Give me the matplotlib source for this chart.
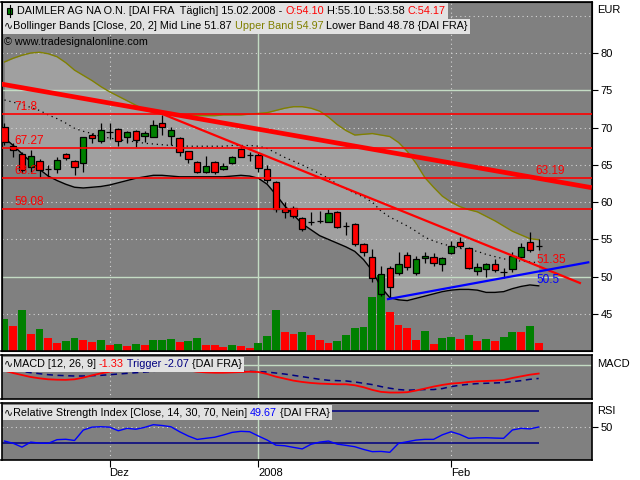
import numpy as np
import matplotlib.pyplot as plt
from matplotlib.patches import Rectangle

FONT = ['Liberation Sans', 'DejaVu Sans']
plt.rcParams['font.family'] = FONT

# daily candles DAI FRA, 15.11.2007 - 15.02.2008
opens = [70.08, 67.5, 66.46, 64.7, 65.5, 64.45, 64.44, 66.46, 65.5, 65.25,
         69.0, 68.2, 69.4, 69.8, 68.74, 69.54, 68.87, 68.74, 70.6, 68.87,
         68.6, 66.86, 65.38, 64.04, 65.38, 64.44, 65.25, 67.13, 66.3, 66.32,
         64.44, 62.7, 59.08, 59.21, 57.87, 57.34, 57.47, 57.34, 58.68, 56.8,
         57.07, 54.39, 52.64, 47.68, 51.17, 50.5, 52.91, 50.5, 52.51, 52.64,
         51.7, 53.18, 54.65, 53.85, 50.77, 51.03, 51.7, 50.63, 51.03, 52.64,
         54.65, 54.10]
highs = [70.6, 67.9, 66.7, 67.0, 65.8, 65.0, 66.05, 66.6, 65.65, 68.8,
         69.27, 70.6, 70.6, 69.9, 69.5, 69.67, 69.5, 71.0, 71.7, 70.1,
         68.74, 66.9, 65.5, 66.2, 65.5, 65.25, 66.2, 67.66, 66.7, 66.6,
         64.98, 62.8, 60.0, 59.5, 58.0, 58.7, 58.8, 59.08, 58.8, 57.34,
         57.2, 54.5, 53.72, 51.5, 51.4, 53.3, 53.3, 52.78, 53.3, 53.18,
         52.64, 54.8, 55.3, 53.98, 51.84, 51.84, 52.38, 51.17, 53.3, 54.5,
         56.0, 55.10]
lows = [67.6, 66.05, 63.9, 64.0, 63.4, 63.4, 63.9, 65.65, 63.6, 64.0,
        67.9, 67.9, 68.5, 67.5, 67.9, 67.4, 68.1, 68.74, 69.0, 67.66,
        66.2, 65.25, 63.9, 63.9, 63.8, 64.3, 65.1, 66.0, 65.5, 64.0,
        62.57, 58.7, 57.87, 57.9, 56.13, 56.9, 57.2, 57.3, 56.53, 55.6,
        54.12, 52.78, 49.29, 47.4, 47.2, 50.2, 50.9, 50.2, 51.84, 51.44,
        50.77, 53.05, 53.85, 51.03, 50.23, 49.96, 50.63, 49.83, 50.63, 52.5,
        53.3, 53.58]
closes = [68.06, 67.0, 64.3, 66.2, 64.3, 64.45, 65.65, 65.92, 64.7, 68.74,
          68.6, 69.67, 69.4, 68.2, 69.4, 68.33, 69.27, 70.34, 70.08, 69.67,
          66.7, 65.8, 64.04, 64.85, 64.04, 64.85, 66.05, 66.05, 66.3, 64.58,
          62.97, 59.08, 58.68, 58.14, 56.40, 57.34, 57.47, 58.54, 56.67, 56.8,
          54.39, 53.31, 49.83, 50.36, 48.62, 51.7, 51.3, 52.38, 52.78, 51.84,
          52.51, 54.12, 54.12, 51.17, 51.3, 51.7, 50.9, 50.63, 52.78, 53.98,
          53.58, 54.17]
volume = [320, 250, 410, 170, 220, 130, 80, 100, 130, 110, 90, 110, 60, 70,
          50, 70, 60, 110, 110, 120, 90, 100, 130, 60, 60, 40, 60, 50, 30, 80,
          150, 410, 190, 170, 190, 160, 110, 80, 100, 160, 230, 240, 540, 760,
          390, 260, 230, 110, 200, 70, 130, 140, 120, 160, 100, 120, 100, 140,
          190, 190, 250, 80]
volume_up = [1, 0, 1, 0, 1, 0, 0, 1, 1, 0, 0, 1, 0, 1, 0, 1, 0, 1, 1, 1, 0,
             1, 1, 0, 0, 0, 1, 0, 0, 1, 1, 1, 0, 0, 1, 0, 0, 0, 1, 1, 1, 1,
             1, 1, 0, 0, 0, 0, 1, 0, 1, 1, 0, 1, 0, 1, 0, 1, 1, 0, 1, 0]

# Bollinger Bands [Close, 20, 2]
bb_upper = [78.8, 79.3, 79.7, 80.0, 80.1, 79.9, 79.5, 78.7, 77.7, 77.0,
            76.3, 75.5, 74.8, 74.2, 73.6, 73.0, 72.4, 72.0, 71.8, 71.7,
            71.7, 71.7, 71.6, 71.6, 71.6, 71.7, 71.7, 71.7, 71.8, 71.9,
            72.0, 72.3, 72.6, 72.8, 72.8, 72.6, 72.2, 71.4, 70.4, 69.6,
            69.0, 69.1, 69.2, 69.0, 68.8, 68.0, 66.8, 65.2, 63.3, 62.0,
            60.8, 60.0, 59.4, 59.0, 58.7, 58.1, 57.5, 56.8, 56.1, 55.6,
            55.1, 54.97]
bb_lower = [68.6, 67.6, 66.5, 65.4, 64.4, 63.5, 62.9, 62.4, 62.0, 61.9,
            62.0, 62.1, 62.3, 62.6, 62.9, 63.2, 63.4, 63.6, 63.6, 63.5,
            63.4, 63.4, 63.4, 63.4, 63.4, 63.4, 63.5, 63.6, 63.5, 63.2,
            62.4, 61.0, 59.5, 58.3, 57.1, 56.3, 55.5, 55.0, 54.5, 54.0,
            53.4, 52.3, 50.8, 48.6, 47.2, 46.9, 46.8, 47.1, 47.4, 47.7,
            48.0, 48.2, 48.3, 48.3, 48.2, 47.9, 47.9, 48.0, 48.4, 48.7,
            48.9, 48.78]
bb_mid = [73.7, 73.4, 73.1, 72.7, 72.3, 71.7, 71.2, 70.6, 69.9, 69.5,
          69.2, 68.8, 68.6, 68.4, 68.2, 68.1, 67.9, 67.8, 67.7, 67.6,
          67.6, 67.5, 67.5, 67.5, 67.5, 67.5, 67.6, 67.6, 67.6, 67.5,
          67.2, 66.6, 66.0, 65.5, 65.0, 64.4, 63.8, 63.2, 62.4, 61.8,
          61.2, 60.7, 60.0, 58.8, 58.0, 57.4, 56.8, 56.1, 55.3, 54.8,
          54.4, 54.1, 53.8, 53.6, 53.4, 53.0, 52.7, 52.4, 52.2, 52.1,
          52.0, 51.87]

# MACD [12, 26, 9]
macd = [-0.9, -1.25, -1.55, -1.85, -2.05, -2.2, -2.26, -2.28, -2.2, -1.95,
        -1.6, -1.3, -1.05, -0.9, -0.8, -0.75, -0.7, -0.65, -0.6, -0.6,
        -0.7, -0.85, -1.05, -1.15, -1.2, -1.2, -1.15, -1.1, -1.05, -1.1,
        -1.4, -1.8, -2.1, -2.4, -2.6, -2.75, -2.85, -2.9, -2.95, -2.95,
        -3.1, -3.4, -3.8, -4.1, -4.2, -4.2, -4.15, -3.9, -3.6, -3.3,
        -3.05, -2.85, -2.75, -2.6, -2.5, -2.45, -2.4, -2.3, -2.0, -1.75,
        -1.5, -1.33]
trigger = [-0.6, -0.8, -1.0, -1.2, -1.35, -1.5, -1.6, -1.65, -1.7, -1.7,
           -1.65, -1.6, -1.5, -1.4, -1.3, -1.2, -1.1, -1.0, -0.9, -0.85,
           -0.8, -0.8, -0.85, -0.9, -0.95, -1.0, -1.0, -1.0, -1.0, -1.05,
           -1.1, -1.25, -1.4, -1.6, -1.8, -2.0, -2.2, -2.35, -2.4, -2.45,
           -2.6, -2.8, -3.0, -3.3, -3.55, -3.75, -3.85, -3.8, -3.75, -3.75,
           -3.6, -3.3, -3.1, -2.95, -2.85, -2.8, -2.75, -2.7, -2.55, -2.4,
           -2.2, -2.07]

# RSI [Close, 14]
rsi = [32.3, 29.5, 24.8, 31.0, 29.8, 29.5, 34.0, 34.5, 33.0, 45.9,
       49.5, 50.0, 49.5, 45.0, 48.0, 46.9, 49.2, 52.5, 51.5, 50.0,
       43.8, 38.5, 34.3, 35.7, 37.0, 39.8, 43.0, 44.3, 43.8, 38.5,
       33.5, 27.2, 26.5, 24.5, 22.6, 28.3, 31.0, 32.3, 28.5, 27.0,
       25.3, 22.0, 19.2, 19.5, 18.4, 29.5, 31.5, 33.5, 34.4, 34.4,
       40.0, 43.8, 40.5, 35.7, 36.2, 36.4, 36.0, 35.7, 46.0, 48.0,
       47.3, 49.67]

# drawn levels and trend lines
levels = [71.8, 67.27, 63.2, 59.08]
trend_thick = ([-0.38, 67.05], [75.84, 61.94])
trend_down = ([17.37, 65.71], [72.13, 49.16])
trend_up = ([43.8, 66.66], [47.0, 51.93])

month_idx = [12, 29, 51]
month_lbl = ['Dez', '2008', 'Feb']

idx = np.arange(len(closes))
o = np.array(opens)
c = np.array(closes)

BG = '#808080'
BAND = '#a0a0a0'
GRID = '#d4d4d4'
SOLID = '#c4dcc4'
XMIN, XMAX = -0.34, 67.09
HSIZE = 7.8

fig = plt.figure(figsize=(6.4, 4.8), dpi=100)

main_rect = [1.5 / 640, 1 - 351 / 480, 590.5 / 640, 349 / 480]
ax_bg = fig.add_axes(main_rect)
vax = fig.add_axes(main_rect, sharex=ax_bg)
ax = fig.add_axes(main_rect, sharex=ax_bg)
ax_m = fig.add_axes([1.5 / 640, 1 - 399 / 480, 590.5 / 640, 44 / 480], sharex=ax_bg)
ax_r = fig.add_axes([1.5 / 640, 1 - 460 / 480, 590.5 / 640, 57 / 480], sharex=ax_bg)


def vgrid(a):
    for i in (month_idx[0], month_idx[2]):
        a.axvline(i, color=GRID, ls=(0, (1, 3)), lw=0.8, zorder=0.5)
    a.axvline(month_idx[1], color=SOLID, lw=1, zorder=0.5)


# background panel: band fill + grid
ax_bg.set_facecolor(BG)
ax_bg.fill_between(idx, bb_lower, bb_upper, color=BAND, lw=0, zorder=0.3)
for lv in [45, 55, 60, 65, 70, 80, 85]:
    ax_bg.axhline(lv, color=GRID, ls=(0, (1, 3)), lw=0.8, zorder=0.5)
for lv in [50, 75]:
    ax_bg.axhline(lv, color=SOLID, lw=1, zorder=0.5)
vgrid(ax_bg)
ax_bg.set_ylim(40.04, 86.84)
ax_bg.set_yticks([])
ax_bg.tick_params(axis='x', bottom=False, labelbottom=False)

# volume
vax.patch.set_visible(False)
vax.bar(idx, volume, width=0.9, color=['#008000' if u else '#ff0000' for u in volume_up], lw=0)
vax.set_ylim(0, 3490)
vax.axis('off')

# price layer
ax.patch.set_visible(False)
ax.plot(idx, bb_upper, color='#808000', lw=1)
ax.plot(idx, bb_lower, color='black', lw=1)
ax.plot(idx, bb_mid, color='black', lw=0.9, ls=(0, (1, 3)))

ax.vlines(idx, lows, highs, color='black', lw=0.9, zorder=3)
body_col = np.where(c >= o, '#008000', '#ff0000')
body_h = np.maximum(np.abs(c - o), 0.04)
ax.bar(idx, body_h, bottom=np.minimum(o, c), width=0.72, color=body_col,
       edgecolor='black', lw=0.9, zorder=4)

for lv in levels:
    ax.axhline(lv, color='#ff0000', lw=1.2, zorder=5)
    ax.text(1.15, lv + 0.15, f'{lv:g}', color='#ff0000', fontsize=8.5,
            va='bottom', ha='left', zorder=6)

ax.plot(*trend_thick, color='#ff0000', lw=3.4, solid_capstyle='butt', zorder=5)
ax.plot(*trend_down, color='#ff0000', lw=1.6, zorder=5)
ax.plot(*trend_up, color='#0000ff', lw=1.6, zorder=5)
ax.text(60.6, 63.35, '63.19', color='#ff0000', fontsize=8.5, va='bottom', zorder=6)
ax.text(60.8, 51.5, '51.35', color='#ff0000', fontsize=8.5, va='bottom', zorder=6)
ax.text(60.8, 50.35, '50.5', color='#0000ff', fontsize=8.5, va='top', zorder=6)

ax.set_xlim(XMIN, XMAX)
ax.set_ylim(40.04, 86.84)
ax.yaxis.tick_right()
ax.set_yticks(range(45, 85, 5))
ax.tick_params(axis='y', length=4, width=0.8, pad=2, labelsize=8, colors='black')
ax.tick_params(axis='x', bottom=False, labelbottom=False)
for s in ax.spines.values():
    s.set_linewidth(1.2)

# MACD panel
ax_m.set_facecolor(BG)
ax_m.axhline(0, color=SOLID, lw=1, zorder=0.5)
vgrid(ax_m)
ax_m.plot(idx, trigger, color='#000080', lw=1.1, ls=(0, (4, 3)))
ax_m.plot(idx, macd, color='#ff0000', lw=1.3)
ax_m.set_ylim(-5.18, 1.48)
ax_m.set_yticks([])
ax_m.tick_params(axis='x', bottom=False, labelbottom=False)
for s in ax_m.spines.values():
    s.set_linewidth(1.2)

# RSI panel
ax_r.set_facecolor(BG)
ax_r.axhline(50, color=GRID, ls=(0, (1, 3)), lw=0.8, zorder=0.5)
vgrid(ax_r)
ax_r.hlines([70, 30], XMIN, idx[-1], color='#000080', lw=1.1)
ax_r.plot(idx, rsi, color='#0000ff', lw=1)
ax_r.set_ylim(8.9, 79.3)
ax_r.yaxis.tick_right()
ax_r.set_yticks([50])
ax_r.tick_params(axis='y', length=4, width=0.8, pad=2, labelsize=8)
ax_r.set_xticks(month_idx)
ax_r.set_xticklabels(month_lbl)
ax_r.tick_params(axis='x', length=5, width=0.8, pad=1, labelsize=8, direction='out')
for lbl in ax_r.get_xticklabels():
    lbl.set_ha('left')
for s in ax_r.spines.values():
    s.set_linewidth(1.2)
ax_r.set_xlim(XMIN, XMAX)

# overlay in pixel coordinates for header texts
ov = fig.add_axes([0, 0, 1, 1])
ov.set_xlim(0, 640)
ov.set_ylim(480, 0)
ov.axis('off')
ov.set_zorder(20)
renderer = fig.canvas.get_renderer()


def text_width(s, size):
    t = ov.text(0, 0, s + 'x', fontsize=size)
    w = t.get_window_extent(renderer).width
    t.remove()
    t = ov.text(0, 0, 'x', fontsize=size)
    w -= t.get_window_extent(renderer).width
    t.remove()
    return w


def runs(x, y, parts, size=HSIZE):
    done = ''
    for s, col in parts:
        ov.text(x + text_width(done, size), y, s, color=col, fontsize=size,
                va='center', ha='left')
        done += s
    return x + text_width(done, size)


def header(x0, y0, y1, x, parts, size=HSIZE):
    end = runs(x, (y0 + y1) / 2, parts, size)
    ov.add_patch(Rectangle((x0, y0), end + 2 - x0, y1 - y0, color='#e2e2e2', lw=0, zorder=-1))


header(3, 3, 18.5, 17, [('DAIMLER AG NA O.N. [DAI FRA  Täglich] 15.02.2008 - ', 'black'),
                        ('O:54.10', '#ff0000'), (' H:55.10 L:53.58 ', 'black'),
                        ('C:54.17', '#ff0000')])
header(3, 18.5, 34, 4, [('∿Bollinger Bands [Close, 20, 2] Mid Line 51.87 ', 'black'),
                        ('Upper Band 54.97', '#808000'),
                        (' Lower Band 48.78 {DAI FRA}', 'black')])
ov.text(4, 42, '© www.tradesignalonline.com', fontsize=HSIZE, va='center', color='black')
# small candle symbol
ov.plot([9.5, 9.5], [5, 17], color='black', lw=0.8)
ov.add_patch(Rectangle((7, 8), 5, 6, facecolor='#008000', edgecolor='black', lw=0.8))

header(3, 357, 371.5, 4, [('∿MACD [12, 26, 9] ', 'black'), ('-1.33', '#ff0000'),
                          (' Trigger -2.07', '#000080'), (' {DAI FRA}', 'black')])
header(3, 405, 420, 4, [('∿Relative Strength Index [Close, 14, 30, 70, Nein] ', 'black'),
                        ('49.67', '#0000ff'), (' {DAI FRA}', 'black')])

ov.text(597, 10, 'EUR', fontsize=8, va='center')
ov.text(597, 364, 'MACD', fontsize=8, va='center')
ov.text(597, 411, 'RSI', fontsize=8, va='center')

fig.savefig('out.png', dpi=100)
